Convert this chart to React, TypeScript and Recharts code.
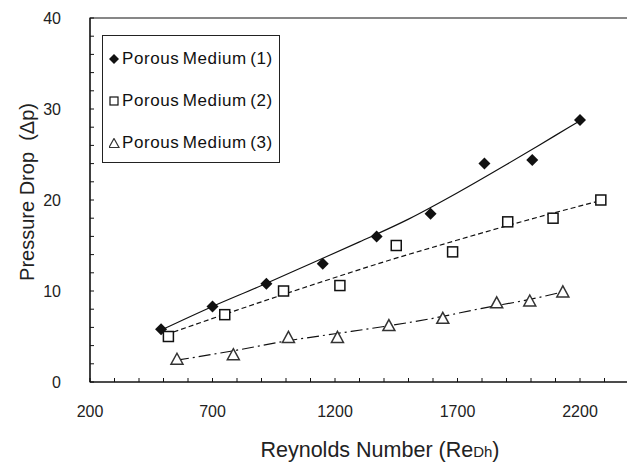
import React from 'react';
import {
  ComposedChart, Scatter, Line, XAxis, YAxis, Legend, ReferenceArea,
} from 'recharts';

// measured points
const medium1 = [
  { x: 490, y: 5.8 }, { x: 700, y: 8.3 }, { x: 920, y: 10.8 }, { x: 1150, y: 13.0 },
  { x: 1370, y: 16.0 }, { x: 1590, y: 18.5 }, { x: 1810, y: 24.0 }, { x: 2005, y: 24.4 },
  { x: 2200, y: 28.8 },
];
const medium2 = [
  { x: 520, y: 5.0 }, { x: 750, y: 7.4 }, { x: 990, y: 10.0 }, { x: 1220, y: 10.6 },
  { x: 1450, y: 15.0 }, { x: 1680, y: 14.3 }, { x: 1905, y: 17.6 }, { x: 2090, y: 18.0 },
  { x: 2285, y: 20.0 },
];
const medium3 = [
  { x: 555, y: 2.5 }, { x: 785, y: 3.0 }, { x: 1010, y: 4.9 }, { x: 1210, y: 4.9 },
  { x: 1420, y: 6.2 }, { x: 1640, y: 7.0 }, { x: 1860, y: 8.7 }, { x: 1995, y: 8.9 },
  { x: 2130, y: 9.9 },
];

// trend lines
const fit1 = [
  { x: 490, y: 5.7 }, { x: 700, y: 8.3 }, { x: 900, y: 10.6 }, { x: 1100, y: 13.0 },
  { x: 1300, y: 15.4 }, { x: 1500, y: 17.9 }, { x: 1700, y: 20.8 }, { x: 1900, y: 23.9 },
  { x: 2100, y: 27.1 }, { x: 2200, y: 28.7 },
];
const fit2 = [
  { x: 510, y: 5.2 }, { x: 800, y: 7.9 }, { x: 1100, y: 10.6 }, { x: 1400, y: 13.2 },
  { x: 1700, y: 15.6 }, { x: 2000, y: 17.9 }, { x: 2280, y: 19.9 },
];
const fit3 = [
  { x: 555, y: 2.4 }, { x: 800, y: 3.5 }, { x: 1000, y: 4.5 }, { x: 1200, y: 5.3 },
  { x: 1400, y: 6.1 }, { x: 1600, y: 7.0 }, { x: 1800, y: 8.1 }, { x: 2000, y: 9.1 },
  { x: 2130, y: 9.9 },
];

const seriesNames = ['Porous Medium (1)', 'Porous Medium (2)', 'Porous Medium (3)'];
const xTicks = Array.from({ length: 23 }, (_, i) => 200 + i * 100);
const xLabels = [200, 700, 1200, 1700, 2200];
const yTicks = Array.from({ length: 21 }, (_, i) => i * 2);
const yLabels = [0, 10, 20, 30, 40];

const FONT = 'Arial, "Liberation Sans", sans-serif';
const INK = '#111';

const Diamond = ({ cx, cy }: any) => (
  <polygon points={`${cx},${cy - 6} ${cx + 6},${cy} ${cx},${cy + 6} ${cx - 6},${cy}`} fill={INK} />
);
const Square = ({ cx, cy }: any) => (
  <rect x={cx - 5} y={cy - 5} width={10} height={10} fill="#fff" stroke={INK} strokeWidth={1.5} />
);
const Triangle = ({ cx, cy }: any) => (
  <polygon points={`${cx},${cy - 6} ${cx + 6},${cy + 5} ${cx - 6},${cy + 5}`} fill="#fff" stroke="#333" strokeWidth={1.5} />
);

const legendIcons = [
  <polygon points="5,0 10,5 5,10 0,5" fill={INK} />,
  <rect x={1} y={1} width={8} height={8} fill="#fff" stroke={INK} strokeWidth={1.2} />,
  <polygon points="5,0.5 10,9.5 0,9.5" fill="#fff" stroke="#333" strokeWidth={1.2} />,
];

const renderLegend = () => (
  <div style={{
    border: '1px solid #222', width: 178, height: 128, boxSizing: 'border-box',
    background: '#fff', padding: '11px 0 0 6px', fontFamily: FONT, fontSize: 17, color: INK,
    whiteSpace: 'nowrap', letterSpacing: 0.6, wordSpacing: -2,
  }}>
    {seriesNames.map((name, i) => (
      <div key={name} style={{ display: 'flex', alignItems: 'center', height: 42, marginTop: i === 0 ? -9 : 0 }}>
        <svg width={11} height={11} style={{ marginRight: 2 }}>{legendIcons[i]}</svg>
        <span>{name}</span>
      </div>
    ))}
  </div>
);

const App = () => (
  <div style={{ position: 'absolute', left: 0, top: 0, width: 627, height: 464, overflow: 'hidden', background: '#fff' }}>
    <ComposedChart width={640} height={464} margin={{ top: 18, right: 11, left: 0, bottom: 0 }}>
      <XAxis
        type="number" dataKey="x" domain={[200, 2400]} ticks={xTicks} allowDataOverflow
        tickFormatter={(v: number) => (xLabels.includes(v) ? String(v) : '')}
        tickSize={-4} tickMargin={28} height={82}
        stroke={INK} tick={{ fill: '#222', fontSize: 16, fontFamily: FONT }}
        label={{
          content: () => (
            <text x={380} y={457} textAnchor="middle" fontFamily={FONT} fontSize={21.5} fill="#222">
              Reynolds Number (Re<tspan fontSize={15}>Dh</tspan>)
            </text>
          ),
        }}
      />
      <YAxis
        type="number" dataKey="y" domain={[0, 40]} ticks={yTicks} allowDataOverflow
        tickFormatter={(v: number) => (yLabels.includes(v) ? String(v) : '')}
        tickSize={-4} tickMargin={33} width={90}
        stroke={INK} tick={{ fill: '#222', fontSize: 16, fontFamily: FONT }}
        label={{
          content: () => (
            <text x={27} y={192} transform="rotate(-90 27 192)" textAnchor="middle" dominantBaseline="central" fontFamily={FONT} fontSize={20} fill="#222">
              {'Pressure Drop\u00a0\u00a0(Δp)'}
            </text>
          ),
        }}
      />
      <ReferenceArea x1={200} x2={2400} y1={0} y2={40} fill="none" stroke={INK} strokeWidth={1.2} />
      <Line data={fit1} dataKey="y" type="monotone" stroke={INK} strokeWidth={1.2} dot={false} legendType="none" isAnimationActive={false} />
      <Line data={fit2} dataKey="y" type="monotone" stroke={INK} strokeWidth={1.2} strokeDasharray="5 3" dot={false} legendType="none" isAnimationActive={false} />
      <Line data={fit3} dataKey="y" type="monotone" stroke={INK} strokeWidth={1.2} strokeDasharray="12 4 2 4" dot={false} legendType="none" isAnimationActive={false} />
      <Scatter name={seriesNames[0]} data={medium1} shape={<Diamond />} isAnimationActive={false} />
      <Scatter name={seriesNames[1]} data={medium2} shape={<Square />} isAnimationActive={false} />
      <Scatter name={seriesNames[2]} data={medium3} shape={<Triangle />} isAnimationActive={false} />
      <Legend
        layout="vertical" align="center" verticalAlign="middle"
        content={renderLegend}
        wrapperStyle={{ left: 102, top: 35, width: 178, height: 128 }}
      />
    </ComposedChart>
  </div>
);

export default App;
